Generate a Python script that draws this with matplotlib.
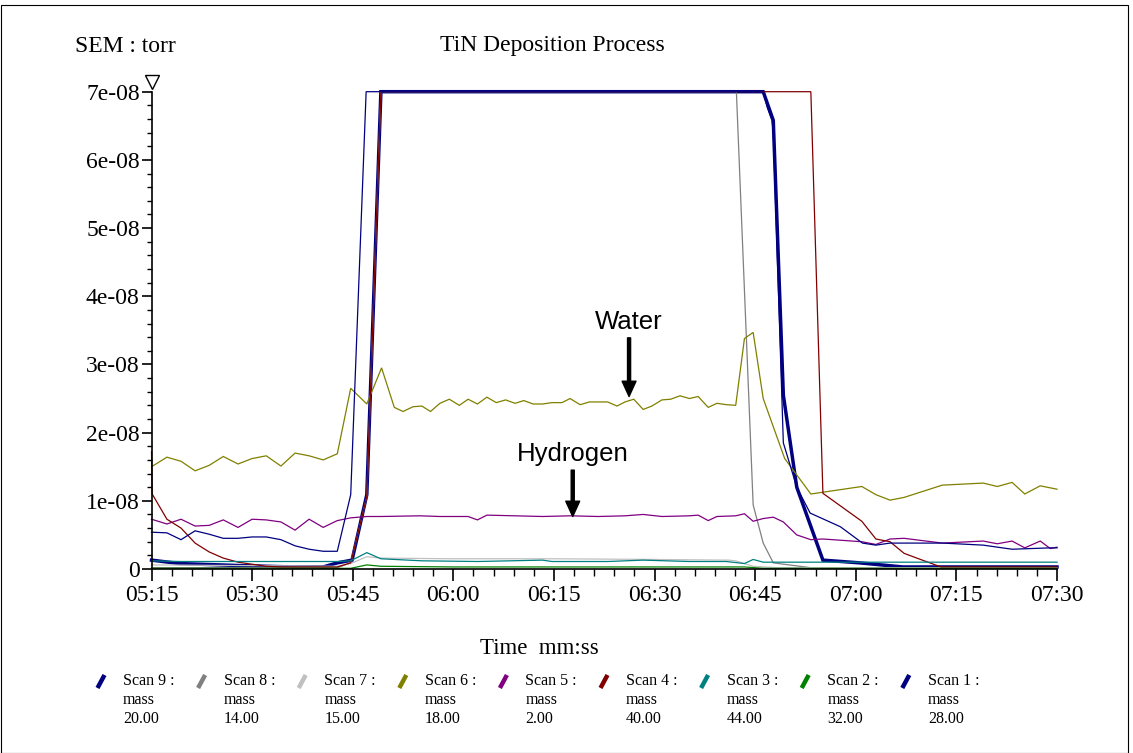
import matplotlib
matplotlib.use("Agg")
import matplotlib.pyplot as plt
from matplotlib.ticker import MultipleLocator, FuncFormatter
from matplotlib.lines import Line2D
from matplotlib.patches import Rectangle

T0 = 5 * 60 + 15  # 05:15 in seconds, start of the time axis
SCALE = 1e-8      # values below are in units of 1e-08 torr

# Scan 9 : mass 20 (thick navy)
scan9_t = [0, 4.2, 13.2, 21.1, 25.6, 27.7, 29.9, 32.1, 34.2, 91.2, 92.7, 94.2, 96.2, 100.1, 105.6, 112.0, 135]
scan9_v = [0.13, 0.08, 0.05, 0.03, 0.03, 0.09, 0.13, 1.09, 7.0, 7.0, 6.58, 2.55, 1.20, 0.13, 0.09, 0.03, 0.03]

# Scan 8 : mass 14
scan8_t = [0, 27.7, 29.7, 32.1, 34.2, 87.2, 89.7, 91.2, 92.7, 99.0, 135]
scan8_v = [0.02, 0.02, 0.09, 1.06, 7.0, 7.0, 0.94, 0.38, 0.09, 0.01, 0.01]

# Scan 7 : mass 15
scan7_t = [0, 27.7, 29.7, 32.1, 34.2, 45.0, 60.0, 75.0, 86.0, 87.1, 89.7, 93.0, 135]
scan7_v = [0.06, 0.04, 0.08, 0.18, 0.16, 0.15, 0.15, 0.14, 0.13, 0.12, 0.04, 0.02, 0.02]

# Scan 6 : mass 18 (water)
scan6_t = [0, 2.3, 4.4, 6.5, 8.6, 10.7, 12.9, 15.0, 17.1, 19.3, 21.4, 23.5, 25.6, 27.7, 29.7,
           32.1, 34.3, 36.2, 37.5, 39.0, 40.3, 41.6, 43.0, 44.4, 45.9, 47.2, 48.6, 50.0, 51.4,
           52.8, 54.2, 55.5, 56.9, 58.3, 59.7, 61.2, 62.4, 63.9, 65.3, 66.6, 68.0, 69.4, 70.6,
           71.9, 73.3, 74.6, 76.1, 77.4, 78.8, 80.2, 81.5, 83.0, 84.3, 85.7, 87.1, 88.4, 89.7,
           91.2, 94.4, 98.3, 105.9, 108.0, 110.1, 112.2, 117.9, 124.0, 126.1, 128.3, 130.2, 132.5, 135.0]
scan6_v = [1.50, 1.64, 1.58, 1.44, 1.52, 1.65, 1.54, 1.62, 1.66, 1.51, 1.70, 1.66, 1.60, 1.69, 2.65,
           2.42, 2.95, 2.37, 2.31, 2.38, 2.39, 2.31, 2.43, 2.49, 2.40, 2.49, 2.42, 2.52, 2.44,
           2.48, 2.43, 2.47, 2.42, 2.42, 2.44, 2.44, 2.50, 2.41, 2.45, 2.45, 2.45, 2.39, 2.45,
           2.49, 2.34, 2.39, 2.48, 2.49, 2.54, 2.50, 2.53, 2.37, 2.43, 2.41, 2.40, 3.38, 3.47,
           2.50, 1.62, 1.10, 1.21, 1.09, 1.01, 1.05, 1.23, 1.26, 1.21, 1.27, 1.10, 1.22, 1.17]

# Scan 5 : mass 2 (hydrogen)
scan5_t = [0, 2.3, 4.4, 6.5, 8.6, 10.7, 12.9, 15.0, 17.1, 19.3, 21.4, 23.5, 25.6, 27.7, 29.7,
           32.1, 34.2, 40.0, 43.0, 47.2, 48.6, 50.0, 54.2, 58.3, 62.4, 66.6, 70.6, 73.3, 76.1,
           80.2, 81.5, 83.0, 84.3, 87.1, 88.4, 89.7, 91.2, 92.7, 94.2, 96.2, 98.3, 100.1,
           105.9, 108.0, 110.1, 112.2, 117.9, 124.0, 126.1, 128.3, 130.2, 132.5, 134.0, 135.0]
scan5_v = [0.73, 0.66, 0.73, 0.63, 0.64, 0.72, 0.61, 0.73, 0.72, 0.69, 0.57, 0.73, 0.61, 0.71, 0.75,
           0.77, 0.77, 0.78, 0.77, 0.77, 0.72, 0.79, 0.78, 0.77, 0.78, 0.77, 0.78, 0.80, 0.77,
           0.78, 0.79, 0.71, 0.77, 0.78, 0.81, 0.70, 0.74, 0.76, 0.69, 0.50, 0.43, 0.44,
           0.40, 0.36, 0.44, 0.45, 0.38, 0.41, 0.37, 0.41, 0.31, 0.41, 0.30, 0.32]

# Scan 4 : mass 40
scan4_t = [0, 0.1, 2.3, 4.4, 6.5, 8.6, 10.7, 12.9, 15.0, 17.1, 19.3, 27.7, 29.7, 32.1, 34.2,
           98.3, 100.1, 105.9, 108.0, 110.1, 112.2, 114.1, 117.7, 135]
scan4_v = [1.72, 1.10, 0.73, 0.60, 0.38, 0.25, 0.16, 0.10, 0.07, 0.04, 0.03, 0.03, 0.09, 1.06, 7.0,
           7.0, 1.11, 0.70, 0.44, 0.40, 0.23, 0.16, 0.03, 0.03]

# Scan 3 : mass 44
scan3_t = [0, 4.4, 27.7, 29.7, 32.1, 34.2, 40.3, 48.6, 58.3, 59.7, 68.0, 73.3, 80.2, 85.7,
           88.4, 89.7, 91.2, 100.0, 135]
scan3_v = [0.12, 0.11, 0.11, 0.12, 0.24, 0.15, 0.12, 0.11, 0.13, 0.11, 0.11, 0.13, 0.11, 0.11,
           0.08, 0.14, 0.10, 0.10, 0.10]

# Scan 2 : mass 32
scan2_t = [0, 29.7, 32.1, 34.2, 45.0, 88.4, 91.2, 135]
scan2_v = [0.01, 0.01, 0.06, 0.04, 0.03, 0.03, 0.01, 0.01]

# Scan 1 : mass 28 (thin navy)
scan1_t = [0, 2.3, 4.4, 6.5, 8.6, 10.7, 12.9, 15.0, 17.1, 19.3, 21.4, 23.5, 25.6, 27.7, 29.7,
           32.0, 91.2, 91.8, 92.5, 92.7, 94.2, 96.2, 98.2, 102.7, 106.0, 108.0, 110.1, 118.0,
           124.0, 128.3, 134.0, 135]
scan1_v = [0.54, 0.53, 0.43, 0.56, 0.51, 0.45, 0.45, 0.47, 0.47, 0.43, 0.34, 0.29, 0.26, 0.26, 1.09,
           7.0, 7.0, 6.77, 6.58, 6.41, 1.85, 1.20, 0.82, 0.62, 0.38, 0.35, 0.38, 0.38,
           0.35, 0.29, 0.31, 0.31]

scan_names = ["Scan 9 :", "Scan 8 :", "Scan 7 :", "Scan 6 :", "Scan 5 :",
              "Scan 4 :", "Scan 3 :", "Scan 2 :", "Scan 1 :"]
scan_mass = ["20.00", "14.00", "15.00", "18.00", "2.00", "40.00", "44.00", "32.00", "28.00"]
scan_colors = ["#000080", "#808080", "#c0c0c0", "#808000", "#800080",
               "#800000", "#008080", "#008000", "#000080"]
scan_widths = [2.5, 0.9, 0.9, 0.9, 0.9, 0.9, 0.9, 0.9, 0.9]

series = [(scan9_t, scan9_v), (scan8_t, scan8_v), (scan7_t, scan7_v), (scan6_t, scan6_v),
          (scan5_t, scan5_v), (scan4_t, scan4_v), (scan3_t, scan3_v), (scan2_t, scan2_v),
          (scan1_t, scan1_v)]

SERIF = "Liberation Serif"
SANS = "Liberation Sans"
W, H = 1133, 753

fig = plt.figure(figsize=(W / 100, H / 100), dpi=100)
ax = fig.add_axes([151.5 / W, 1 - 569 / H, (1057 - 151.5) / W, (569 - 91.7) / H])

for (t, v), c, lw in zip(series, scan_colors, scan_widths):
    ax.plot([T0 + s for s in t], [x * SCALE for x in v], color=c, lw=lw, clip_on=False,
            solid_joinstyle="miter")

ax.set_xlim(T0, T0 + 135)
ax.set_ylim(0, 7 * SCALE)

# axes look
for side in ("top", "right"):
    ax.spines[side].set_visible(False)
ax.spines["left"].set_linewidth(1.2)
ax.spines["bottom"].set_linewidth(1.2)

ax.xaxis.set_major_locator(MultipleLocator(15))
ax.xaxis.set_minor_locator(MultipleLocator(3))
ax.yaxis.set_major_locator(MultipleLocator(1e-8))
ax.yaxis.set_minor_locator(MultipleLocator(2e-9))
ax.xaxis.set_major_formatter(FuncFormatter(lambda x, p: f"{int(x) // 60:02d}:{int(x) % 60:02d}"))
ax.yaxis.set_major_formatter(FuncFormatter(lambda y, p: "0" if abs(y) < 1e-12 else f"{y:.0e}"))

ax.tick_params(axis="x", which="major", length=8.5, width=1.2, pad=3, labelsize=17)
ax.tick_params(axis="x", which="minor", length=5.3, width=1.0)
ax.tick_params(axis="y", which="major", length=7.5, width=1.2, pad=1, labelsize=17)
ax.tick_params(axis="y", which="minor", length=3.6, width=1.0)
for lab in ax.get_xticklabels() + ax.get_yticklabels():
    lab.set_family(SERIF)

# small open triangle on top of the y axis
ax.plot([0], [1.02], transform=ax.transAxes, marker="v", ms=10, mfc="white",
        mec="black", mew=1.0, clip_on=False)

# annotations
ax.annotate("", xy=(T0 + 71.2, 2.53 * SCALE), xytext=(T0 + 71.2, 3.39 * SCALE),
            arrowprops=dict(facecolor="black", edgecolor="black", width=2.2,
                            headwidth=10, headlength=11, shrink=0))
ax.text(T0 + 71.2, 3.62 * SCALE, "Water", ha="center", va="center", fontsize=18.5, family=SANS)
ax.annotate("", xy=(T0 + 62.8, 0.77 * SCALE), xytext=(T0 + 62.8, 1.45 * SCALE),
            arrowprops=dict(facecolor="black", edgecolor="black", width=2.2,
                            headwidth=10, headlength=11, shrink=0))
ax.text(T0 + 62.8, 1.69 * SCALE, "Hydrogen", ha="center", va="center", fontsize=18.5, family=SANS)

# titles
fig.text(552 / W, 1 - 45 / H, "TiN Deposition Process", ha="center", va="center",
         fontsize=17, family=SERIF)
fig.text(75 / W, 1 - 47 / H, "SEM : torr", ha="left", va="center", fontsize=17, family=SERIF)
fig.text(539 / W, 1 - 648 / H, "Time  mm:ss", ha="center", va="center", fontsize=16.5, family=SERIF)

# legend drawn by hand, one column per scan
for i, (name, mass, c) in enumerate(zip(scan_names, scan_mass, scan_colors)):
    tx = 123 + 100.6 * i
    mx = tx - 22
    fig.add_artist(Line2D([(mx - 3.5) / W, (mx + 3.5) / W], [1 - 688 / H, 1 - 675 / H],
                          color=c, lw=3.2, transform=fig.transFigure, solid_capstyle="butt"))
    for j, txt in enumerate([name, "mass", mass]):
        fig.text(tx / W, 1 - (681 + 19 * j) / H, txt, ha="left", va="center",
                 fontsize=11.5, family=SERIF)

# thin frame around the whole picture
fig.add_artist(Rectangle((1 / W, 0), (1127 / W), 1 - 5 / H, transform=fig.transFigure,
                         fill=False, lw=0.8, edgecolor="black"))

fig.savefig("out.png", dpi=100)
